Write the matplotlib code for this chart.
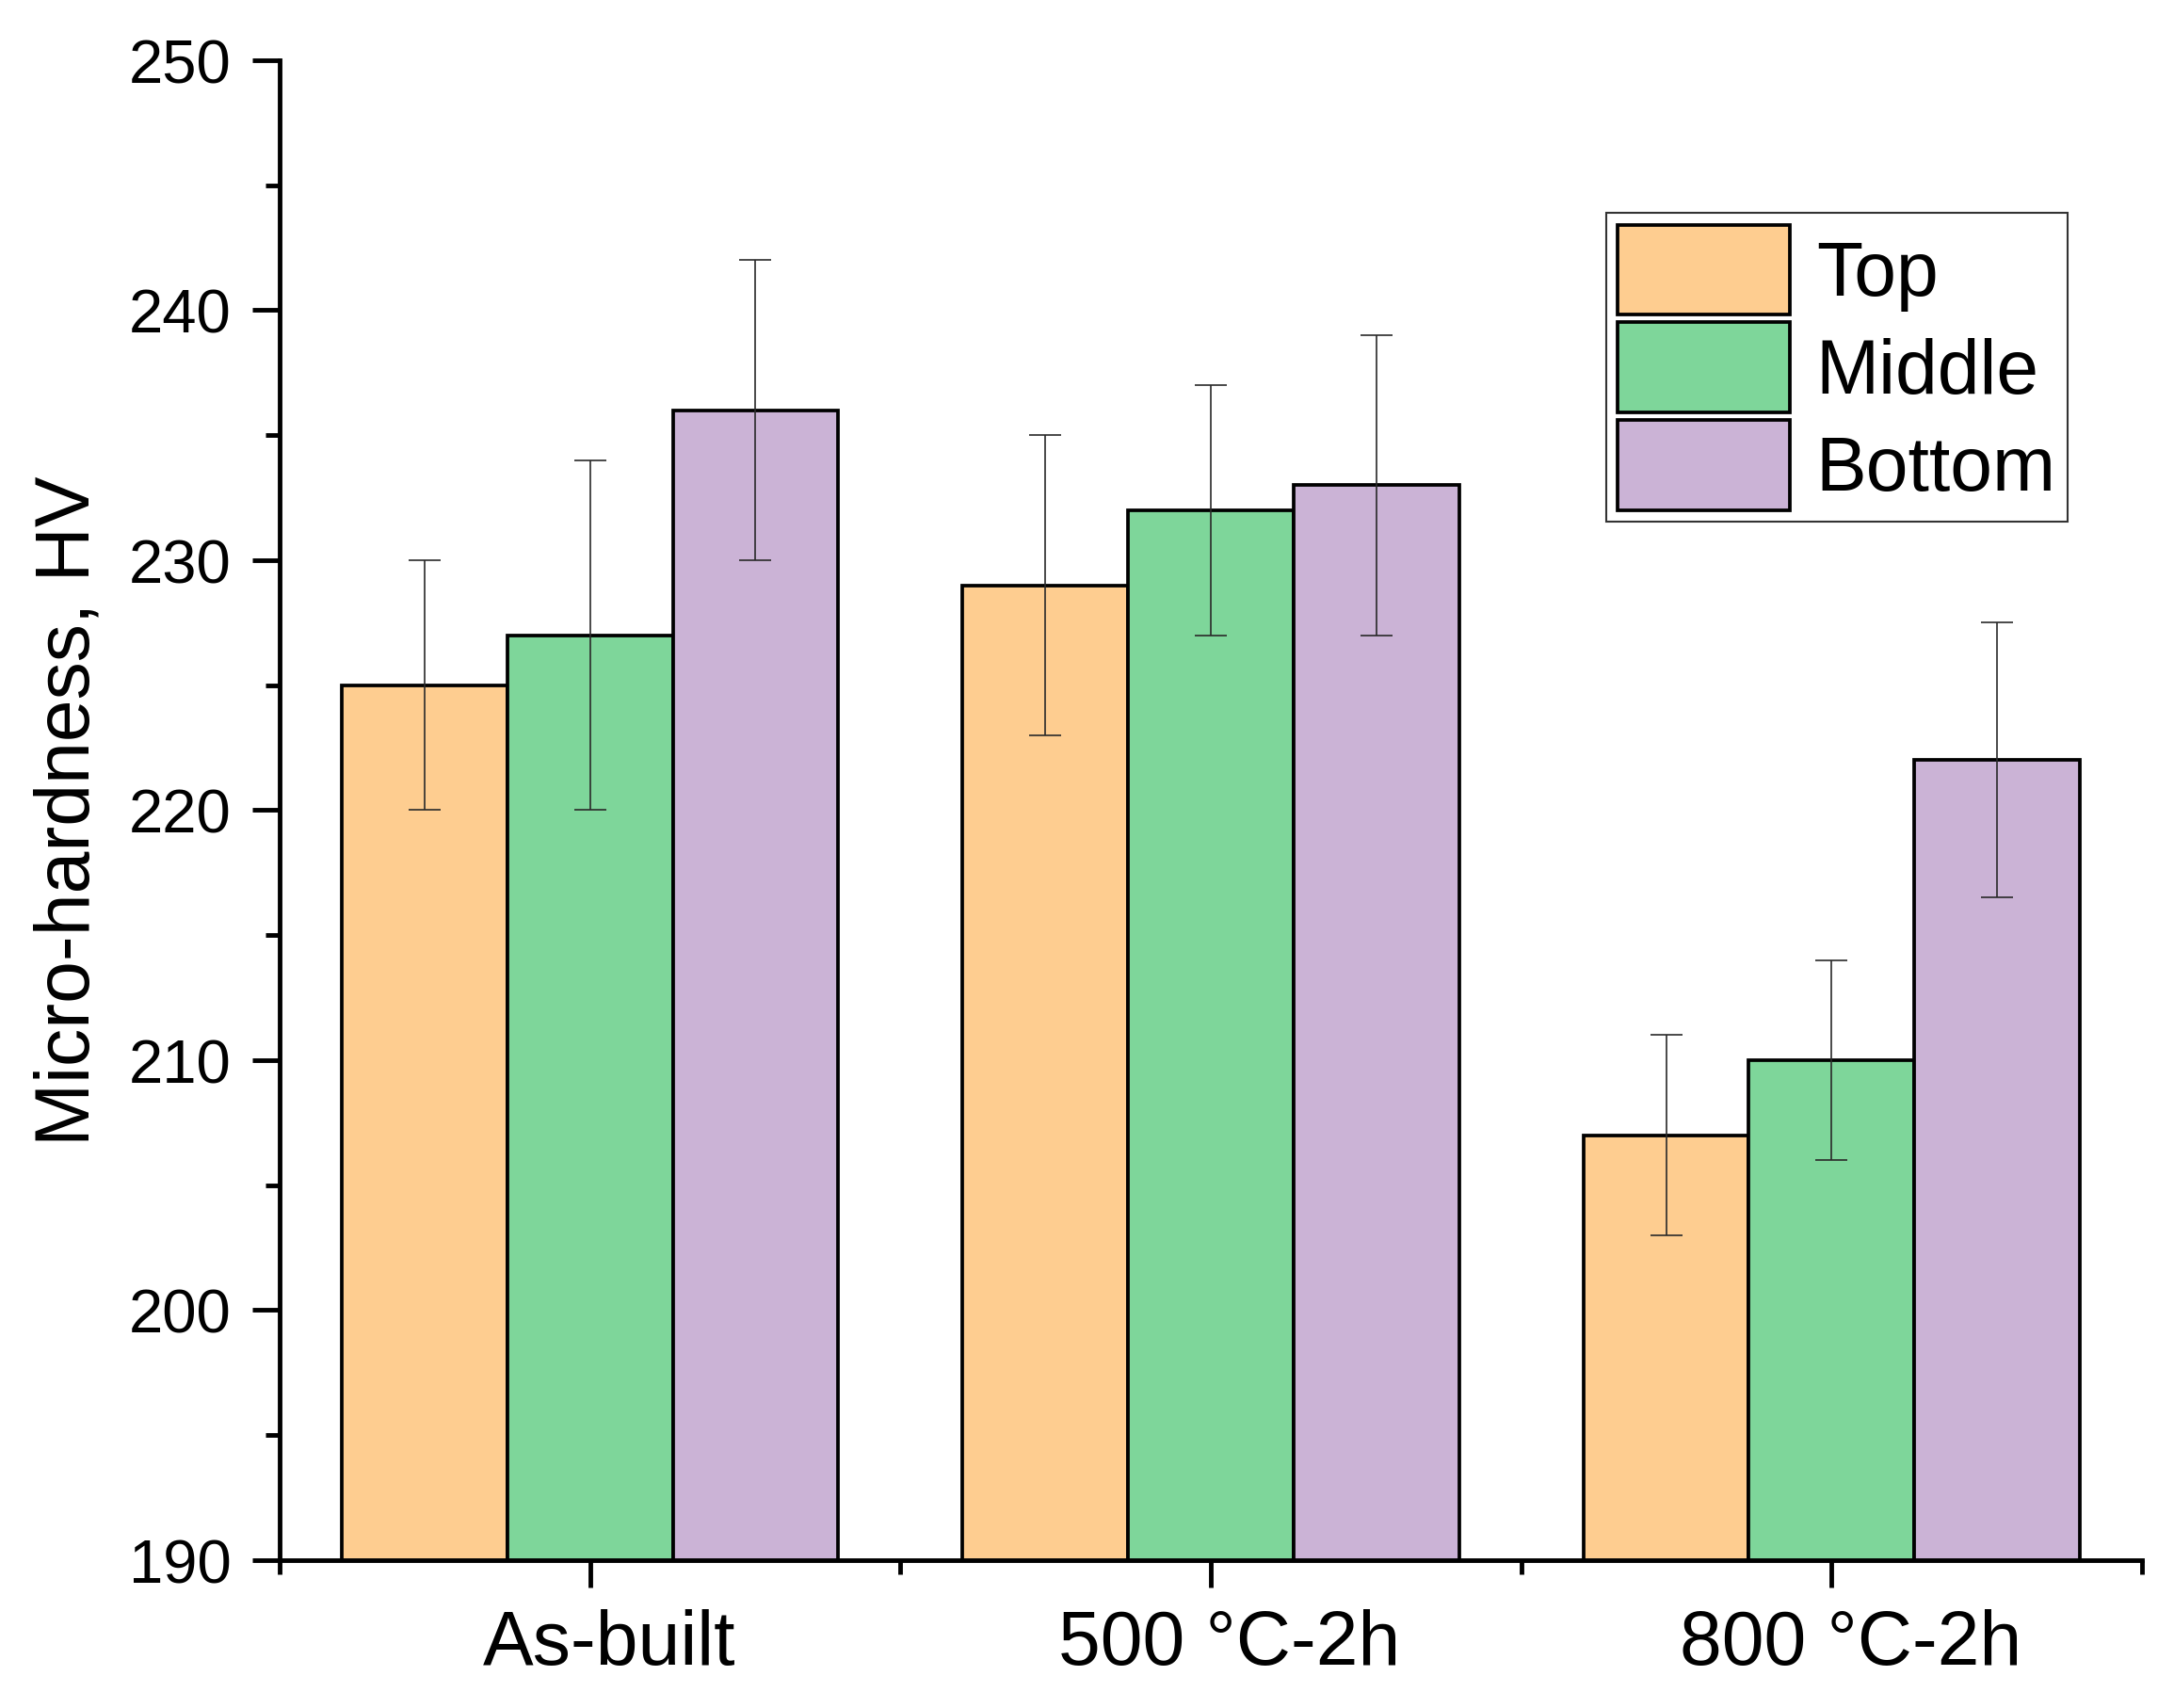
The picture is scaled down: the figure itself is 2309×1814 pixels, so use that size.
import matplotlib
matplotlib.use("Agg")
import matplotlib.pyplot as plt
import matplotlib.transforms as mtransforms
import numpy as np

plt.rcParams["font.family"] = ["Liberation Sans", "DejaVu Sans"]

# data
conditions = ["As-built", "500 \u00b0C-2h", "800 \u00b0C-2h"]
series = ["Top", "Middle", "Bottom"]
top_vals = [225, 229, 207]
middle_vals = [227, 232, 210]
bottom_vals = [236, 233, 222]
top_err = [5, 6, 4]
middle_err = [7, 5, 4]
bottom_err = [6, 6, 5.5]
colors = ["#FECD90", "#7ED69A", "#CBB3D6"]

values = [top_vals, middle_vals, bottom_vals]
errors = [top_err, middle_err, bottom_err]

fig = plt.figure(figsize=(23.09, 18.15), dpi=100)
ax = fig.add_axes([0.1286, 0.0865, 0.8567, 0.8777])

x = np.arange(1, len(conditions) + 1)
width = 0.8 / 3
for i, name in enumerate(series):
    pos = x + (i - 1) * width
    ax.bar(pos, values[i], width, bottom=0, color=colors[i], edgecolor="black",
           linewidth=2.7, label=name, zorder=2)
    ax.errorbar(pos, values[i], yerr=errors[i], fmt="none", ecolor="#2a2a2a",
                elinewidth=1.2, capsize=12, capthick=1.2, zorder=3)

ax.set_xlim(0.5, 3.5)
ax.set_ylim(190, 250)
ax.set_yticks(np.arange(190, 251, 10))
ax.set_yticks(np.arange(195, 250, 10), minor=True)
ax.set_xticks(x)
ax.set_xticks([0.5, 1.5, 2.5, 3.5], minor=True)
ax.set_xticklabels(conditions, fontsize=58)
ax.tick_params(axis="y", labelsize=47)

for side in ["top", "right"]:
    ax.spines[side].set_visible(False)
for side in ["left", "bottom"]:
    ax.spines[side].set_linewidth(3.5)

ax.tick_params(which="major", direction="out", length=21, width=3.5, pad=16)
ax.tick_params(which="minor", direction="out", length=11, width=3.5)

offset = mtransforms.ScaledTranslation(0.2, 0, fig.dpi_scale_trans)
for lab in ax.get_xticklabels():
    lab.set_transform(lab.get_transform() + offset)

ax.set_ylabel("Micro-hardness, HV", fontsize=58, labelpad=18)

leg = ax.legend(loc="upper right", bbox_to_anchor=(0.960, 0.898), fontsize=58,
                frameon=True, fancybox=False, edgecolor="black",
                handlelength=2.27, handleheight=1.45, labelspacing=0.1,
                handletextpad=0.35, borderpad=0.15, borderaxespad=0)
leg.get_frame().set_linewidth(1.5)

fig.savefig("out.png", dpi=100)
